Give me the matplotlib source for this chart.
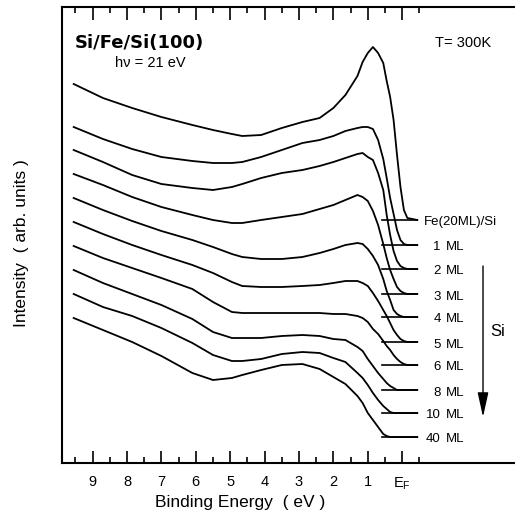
import matplotlib
matplotlib.use("Agg")
import matplotlib.pyplot as plt
from matplotlib.ticker import FixedLocator

plt.rcParams['font.family'] = ['Liberation Sans', 'DejaVu Sans']

# binding energy grid (eV) shared by all spectra
binding_energy = [9.55, 8.7, 7.85, 7.0, 6.1, 5.5, 4.95, 4.65, 4.1, 3.5, 2.9, 2.4,
                  2.0, 1.65, 1.3, 1.15, 1.0, 0.85, 0.7, 0.55, 0.45, 0.35, 0.25,
                  0.15, 0.05, -0.05, -0.15, -0.44]

# intensities (arb. units, offset stack)
fe20 = [396, 382, 372, 363, 355, 350, 346, 344, 345, 352, 358, 362, 372, 385,
        404, 418, 427, 433, 427, 417, 399, 383, 360, 325, 293, 270, 262, 260]
si_1ml = [353, 341, 331, 323, 319, 317, 317, 318, 323, 330, 337, 340, 344, 349,
          352, 353, 353, 351, 340, 321, 302, 282, 266, 250, 240, 236, 235, 235]
si_2ml = [330, 318, 305, 296, 292, 290, 293, 296, 302, 307, 310, 314, 318, 322,
          326, 327, 323, 320, 307, 290, 265, 245, 229, 219, 214, 212, 211, 211]
si_3ml = [306, 295, 283, 273, 265, 260, 257, 257, 260, 263, 266, 271, 275, 280,
          285, 283, 279, 269, 255, 236, 222, 210, 201, 193, 189, 187, 186, 186]
si_4ml = [282, 270, 259, 249, 240, 233, 226, 223, 221, 221, 223, 227, 231, 235,
          237, 236, 231, 224, 215, 201, 189, 180, 170, 166, 164, 163, 163, 163]
si_5ml = [258, 246, 235, 225, 215, 207, 198, 194, 193, 193, 194, 195, 197, 199,
          199, 197, 194, 187, 179, 170, 164, 157, 150, 145, 141, 139, 138, 138]
si_6ml = [234, 222, 212, 202, 191, 178, 168, 167, 167, 167, 167, 167, 166, 166,
          164, 162, 158, 151, 146, 139, 134, 130, 125, 121, 118, 116, 115, 115]
si_8ml = [210, 197, 186, 175, 161, 148, 142, 142, 142, 144, 145, 144, 141, 140,
          133, 129, 121, 114, 107, 101, 97, 94, 92, 90, 90, 90, 90, 90]
si_10ml = [186, 173, 164, 152, 137, 125, 119, 119, 121, 126, 128, 127, 122, 118,
           107, 102, 95, 87, 80, 74, 71, 68, 67, 67, 67, 67, 67, 67]
si_40ml = [162, 150, 138, 124, 107, 100, 102, 105, 110, 115, 116, 111, 103, 96,
           84, 77, 67, 60, 53, 46, 44, 43, 43, 43, 43, 43, 43, 43]

spectra = [fe20, si_1ml, si_2ml, si_3ml, si_4ml, si_5ml, si_6ml, si_8ml, si_10ml, si_40ml]
baselines = [260, 235, 211, 186, 163, 138, 115, 90, 67, 43]
coverage = ['1', '2', '3', '4', '5', '6', '8', '10', '40']

tick_energies = [9, 8, 7, 6, 5, 4, 3, 2, 1, 0]
tick_labels = ['9', '8', '7', '6', '5', '4', '3', '2', '1', r'$\mathregular{E_F}$']

fig = plt.figure(figsize=(5.15, 5.22), dpi=100)
ax = fig.add_axes([62 / 515, 59 / 522, 453 / 515, 456 / 522])

for y, base in zip(spectra, baselines):
    ax.plot(binding_energy, y, color='black', lw=1.3, solid_joinstyle='round')
    ax.plot([0.59, -0.43], [base, base], color='black', lw=1.2)

ax.set_xlim(9.89, -3.28)
ax.set_ylim(17, 473)

# labels next to the baselines
ax.text(-0.63, baselines[0] - 1.5, 'Fe(20ML)/Si', fontsize=9.5, va='center', ha='left')
for cov, base in zip(coverage, baselines[1:]):
    ax.text(-1.125, base - 2.5, cov, fontsize=9.5, va='center', ha='right')
    ax.text(-1.27, base - 2.5, 'ML', fontsize=9.5, va='center', ha='left')

ax.text(9.51, 437, 'Si/Fe/Si(100)', family='DejaVu Sans', fontweight='bold',
        fontsize=13, va='center', ha='left')
ax.text(8.35, 417, 'hν = 21 eV', fontsize=10.5, va='center', ha='left')
ax.text(-0.95, 437, 'T= 300K', fontsize=10.5, va='center', ha='left')

ax.annotate('', xy=(-2.35, 63), xytext=(-2.35, 214),
            arrowprops=dict(arrowstyle='-|>,head_length=1.0,head_width=0.22',
                            mutation_scale=15, color='black', lw=1.0,
                            shrinkA=0, shrinkB=0))
ax.text(-2.55, 148, 'Si', fontsize=12, va='center', ha='left')

ax.xaxis.set_major_locator(FixedLocator(tick_energies))
ax.set_xticklabels(tick_labels, fontsize=10.5)
ax.xaxis.set_minor_locator(FixedLocator([x - 0.5 for x in range(11)]))
ax.tick_params(axis='x', which='both', direction='in', top=True, bottom=True)
ax.tick_params(axis='x', which='major', length=9, width=1.2, pad=9)
ax.tick_params(axis='x', which='minor', length=4, width=1.2)
ax.set_yticks([])

for side in ['left', 'top', 'bottom']:
    ax.spines[side].set_linewidth(1.5)
ax.spines['right'].set_visible(False)

fig.text(240 / 515, 1 - 502 / 522, 'Binding Energy  ( eV )', fontsize=12.5,
         ha='center', va='center')
fig.text(22 / 515, 1 - 243 / 522, 'Intensity  ( arb. units )', fontsize=12.5,
         ha='center', va='center', rotation=90)

fig.savefig('out.png', dpi=100)
